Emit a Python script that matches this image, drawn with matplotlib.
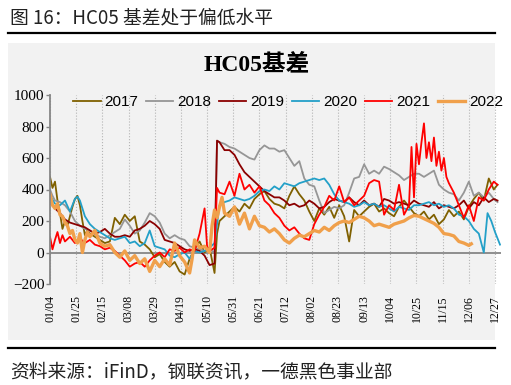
import matplotlib
matplotlib.use('Agg')
import matplotlib.pyplot as plt
from matplotlib.patches import Rectangle
from matplotlib.lines import Line2D

# x = days after 01/04, ticks every 21 days
tick_days = [0, 21, 42, 63, 84, 105, 126, 147, 168, 189, 210, 231, 252, 273, 294, 315, 336, 357]
tick_labels = ['01/04', '01/25', '02/15', '03/08', '03/29', '04/19', '05/10', '05/31', '06/21',
               '07/12', '08/02', '08/23', '09/13', '10/04', '10/25', '11/15', '12/06', '12/27']

years = ['2017', '2018', '2019', '2020', '2021', '2022']

d2017 = [0, 2, 4, 6, 8, 10, 12, 14, 16, 18, 20, 22, 24, 26, 28, 30, 32, 36, 40, 44, 48, 52, 56, 60,
         64, 68, 72, 76, 80, 84, 88, 92, 96, 100, 104, 108, 112, 116, 120, 124, 128, 132, 134, 136,
         140, 144, 148, 152, 156, 160, 164, 168, 172, 176, 180, 184, 188, 192, 196, 200, 204, 208,
         212, 216, 220, 224, 228, 232, 236, 240, 244, 248, 252, 256, 260, 264, 268, 272, 276, 280,
         284, 288, 292, 296, 300, 304, 308, 312, 316, 320, 324, 328, 332, 336, 340, 344, 348, 352,
         356, 359]
v2017 = [480, 410, 450, 330, 250, 150, 200, 170, 230, 290, 340, 360, 300, 200, 110, 140, 120, 100,
         80, 60, 70, 220, 180, 240, 200, 230, 70, 50, 20, -30, -10, -60, -90, -60, -120, -140, -40,
         20, 70, 0, 30, -130, 120, 200, 230, 260, 290, 260, 310, 280, 340, 370, 390, 340, 310, 300,
         280, 360, 420, 370, 330, 260, 200, 280, 240, 290, 220, 300, 230, 70, 270, 230, 260, 290,
         310, 260, 280, 250, 230, 290, 330, 290, 250, 230, 260, 210, 240, 180, 210, 270, 230, 260,
         210, 290, 340, 380, 330, 470, 400, 430]

d2018 = [0, 2, 4, 8, 12, 16, 20, 24, 28, 32, 36, 40, 44, 48, 52, 56, 60, 64, 68, 72, 76, 80, 84, 88,
         92, 96, 100, 104, 108, 112, 116, 120, 124, 128, 132, 134, 136, 140, 144, 148, 152, 156,
         160, 164, 168, 172, 176, 180, 184, 188, 192, 196, 200, 204, 208, 212, 216, 220, 224, 228,
         232, 236, 240, 244, 248, 252, 256, 260, 264, 268, 272, 276, 280, 284, 288, 292, 296, 300,
         304, 308, 312, 316, 320, 324, 328, 332, 336, 340, 344, 348, 352, 356, 359]
v2018 = [400, 360, 330, 320, 300, 260, 200, 170, 150, 140, 120, 100, 90, 110, 130, 150, 210, 170,
         120, 140, 190, 250, 230, 190, 120, 90, 110, 90, 80, 40, 30, 20, 10, 20, 0, 710, 700, 690,
         670, 660, 640, 620, 600, 590, 650, 680, 660, 660, 640, 650, 600, 550, 580, 470, 430, 420,
         330, 250, 270, 290, 280, 300, 380, 470, 480, 560, 500, 520, 500, 545, 530, 510, 490, 460,
         480, 500, 500, 480, 500, 520, 430, 400, 380, 370, 330, 380, 450, 360, 380, 350, 380, 340,
         320]

d2019 = [0, 4, 8, 12, 16, 20, 24, 28, 32, 36, 40, 44, 48, 52, 56, 60, 64, 68, 72, 76, 80, 84, 88,
         92, 96, 100, 104, 108, 112, 116, 120, 124, 128, 132, 134, 136, 140, 144, 148, 152, 156,
         160, 164, 168, 172, 176, 180, 184, 188, 192, 196, 200, 204, 208, 212, 216, 220, 224, 228,
         232, 236, 240, 244, 248, 252, 256, 260, 264, 268, 272, 276, 280, 284, 288, 292, 296, 300,
         304, 308, 312, 316, 320, 324, 328, 332, 336, 340, 344, 348, 352, 356, 359]
v2019 = [330, 280, 250, 210, 190, 180, 170, 160, 140, 120, 130, 150, 120, 100, 100, 110, 100, 140,
         150, 170, 200, 180, 150, 80, 70, 60, 40, 20, 10, 20, 10, -20, -80, -70, 710, 700, 650, 650,
         620, 560, 510, 480, 450, 420, 390, 370, 350, 350, 330, 300, 310, 290, 300, 330, 310, 280,
         290, 320, 340, 330, 320, 350, 320, 300, 330, 300, 310, 290, 340, 330, 310, 320, 310, 300,
         330, 310, 300, 290, 320, 280, 300, 290, 280, 300, 330, 280, 320, 300, 350, 320, 340, 330]

d2020 = [0, 4, 8, 12, 16, 20, 22, 24, 28, 32, 36, 40, 44, 48, 52, 56, 60, 64, 68, 72, 76, 80, 84,
         88, 92, 96, 100, 104, 108, 112, 116, 120, 124, 128, 132, 136, 140, 144, 148, 152, 156, 160,
         164, 168, 172, 176, 180, 184, 188, 192, 196, 200, 204, 208, 212, 216, 220, 224, 228, 232,
         236, 240, 244, 248, 252, 256, 260, 264, 268, 272, 276, 280, 284, 288, 292, 296, 300, 304,
         308, 312, 316, 320, 324, 328, 332, 336, 340, 344, 346, 348, 351, 354, 357, 361]
v2020 = [360, 310, 300, 330, 260, 340, 355, 330, 230, 180, 150, 130, 110, 90, 80, 90, 100, 60, 70,
         40, 60, 140, 40, 30, 20, -20, -30, -10, 0, -40, 10, 0, 10, 30, 60, 300, 320, 330, 350, 340,
         330, 340, 360, 390, 400, 390, 420, 400, 440, 430, 420, 440, 450, 460, 470, 460, 470, 430,
         370, 330, 320, 310, 290, 300, 320, 300, 310, 290, 300, 280, 260, 290, 280, 270, 300, 300,
         310, 320, 300, 310, 290, 300, 280, 240, 230, 200, 150, 120, 60, 0, 250, 200, 130, 50]

d2021 = [0, 2, 4, 6, 8, 10, 12, 16, 20, 24, 28, 32, 36, 40, 44, 48, 52, 56, 60, 64, 68, 72, 76, 80,
         84, 88, 92, 96, 100, 104, 108, 112, 116, 120, 124, 126, 128, 132, 134, 136, 140, 144, 148,
         152, 156, 160, 164, 168, 172, 176, 180, 184, 188, 192, 196, 200, 204, 208, 212, 216, 220,
         224, 228, 232, 236, 240, 244, 248, 252, 256, 260, 264, 268, 272, 276, 280, 284, 288, 290,
         292, 294, 296, 298, 300, 302, 304, 306, 308, 310, 312, 314, 316, 318, 320, 324, 328, 332,
         336, 340, 344, 348, 352, 356, 359]
v2021 = [100, 20, 80, 130, 60, 110, 70, 100, 60, 90, 60, 80, 50, 40, 20, 30, 10, -20, -50, -90, -70,
         -60, -90, -50, -20, 0, -30, 20, 10, 30, 0, 20, 10, 120, 280, 40, 10, 30, 410, 380, 370, 450,
         360, 500, 400, 430, 380, 420, 330, 300, 250, 220, 170, 140, 160, 120, 90, 80, 180, 240, 290,
         360, 330, 420, 320, 350, 300, 330, 360, 440, 460, 450, 240, 300, 270, 430, 240, 300, 670,
         350, 690, 560, 700, 820, 600, 700, 580, 730, 550, 640, 520, 600, 480, 440, 380, 300, 220,
         300, 200, 350, 330, 400, 450, 430]

d2022 = [0, 2, 4, 6, 8, 10, 12, 14, 16, 18, 20, 22, 24, 26, 28, 30, 32, 36, 40, 44, 48, 52, 56, 60,
         64, 68, 72, 76, 80, 84, 88, 92, 96, 100, 104, 108, 112, 114, 116, 120, 124, 128, 130, 132,
         134, 136, 138, 140, 144, 148, 152, 156, 160, 164, 168, 172, 176, 180, 184, 188, 192, 196,
         200, 204, 208, 212, 216, 220, 224, 228, 232, 236, 240, 244, 248, 252, 256, 260, 264, 268,
         272, 276, 280, 284, 288, 292, 296, 300, 304, 308, 312, 316, 320, 324, 328, 332, 336, 338]
v2022 = [370, 300, 280, 310, 240, 230, 190, 170, 120, 140, 80, 60, 120, 0, 80, 130, 100, 140, 60,
         40, 50, 0, -30, 10, -50, -20, -70, -40, -120, -50, -90, -40, -80, 60, -20, -60, -130, -40,
         80, 30, 40, 0, 170, 270, 220, 290, 350, 250, 230, 290, 180, 250, 150, 230, 170, 160, 130,
         150, 120, 80, 60, 90, 110, 100, 120, 140, 130, 160, 140, 170, 190, 200, 190, 210, 230, 220,
         200, 170, 180, 170, 160, 180, 190, 200, 220, 235, 230, 215, 200, 185, 160, 120, 115, 105,
         70, 60, 45, 55]

days = [d2017, d2018, d2019, d2020, d2021, d2022]
vals = [v2017, v2018, v2019, v2020, v2021, v2022]
colors = ['#7f6000', '#969696', '#8b0000', '#23a0c8', '#ff0000', '#f0a04b']
widths = [1.3, 1.3, 1.3, 1.3, 1.3, 2.4]

W, H = 511, 385
fig = plt.figure(figsize=(W / 100, H / 100), dpi=100)

# grey chart panel
fig.patches.append(Rectangle((8 / W, 1 - 340 / H), 487 / W, 297 / H, transform=fig.transFigure,
                             facecolor='#f2f2f2', edgecolor='none', zorder=-10))
for yy in (33, 348):
    fig.add_artist(Line2D([8 / W, 495 / W], [1 - yy / H] * 2, color='black', lw=1.6))

cjk = ['Noto Sans CJK SC', 'DejaVu Sans']
fig.text(10 / W, 1 - 18 / H, '图 16：HC05 基差处于偏低水平', family=cjk, fontsize=13.5,
         va='center', ha='left', color='#222222')
fig.text(10 / W, 1 - 372 / H, '资料来源：iFinD，钢联资讯，一德黑色事业部', family=cjk, fontsize=13.5,
         va='center', ha='left', color='#222222')
fig.text(257 / W, 1 - 65 / H, 'HC05基差', family=['Liberation Serif', 'Noto Sans CJK SC'],
         fontweight='bold', fontsize=17, ha='center', va='center', color='black')

ax = fig.add_axes([50 / W, 1 - 284 / H, 451 / W, 189 / H])
ax.patch.set_alpha(0)

for d, v, c, lw, yr in zip(days, vals, colors, widths, years):
    ax.plot(d, v, color=c, lw=lw, label=yr, solid_joinstyle='round')

ax.set_xlim(0, 361.8)
ax.set_ylim(-200, 1000)
ax.set_yticks(range(-200, 1001, 200))
ax.set_xticks(tick_days)
ax.set_xticklabels(tick_labels, rotation=90, family='Liberation Serif', fontsize=8.5)
for lab in ax.get_yticklabels():
    lab.set_family('Liberation Serif')
    lab.set_fontsize(11)
ax.tick_params(axis='x', length=0, pad=8)
ax.tick_params(axis='y', length=3, width=1, color='#868686', pad=1)
ax.grid(axis='x', ls=':', color='#b4b4b4', lw=0.8)
for s in ('top', 'right', 'bottom'):
    ax.spines[s].set_visible(False)
ax.spines['left'].set_color('#868686')
ax.spines['left'].set_linewidth(1.3)
ax.axhline(0, color='#868686', lw=1.3, zorder=1)

ax.legend(loc='center', bbox_to_anchor=(288 / W, 1 - 102 / H), bbox_transform=fig.transFigure,
          ncol=6, frameon=False, prop={'family': 'Liberation Sans', 'size': 11},
          handlelength=1.8, handletextpad=0.25, columnspacing=0.5, borderpad=0)

fig.savefig('out.png', dpi=100)
